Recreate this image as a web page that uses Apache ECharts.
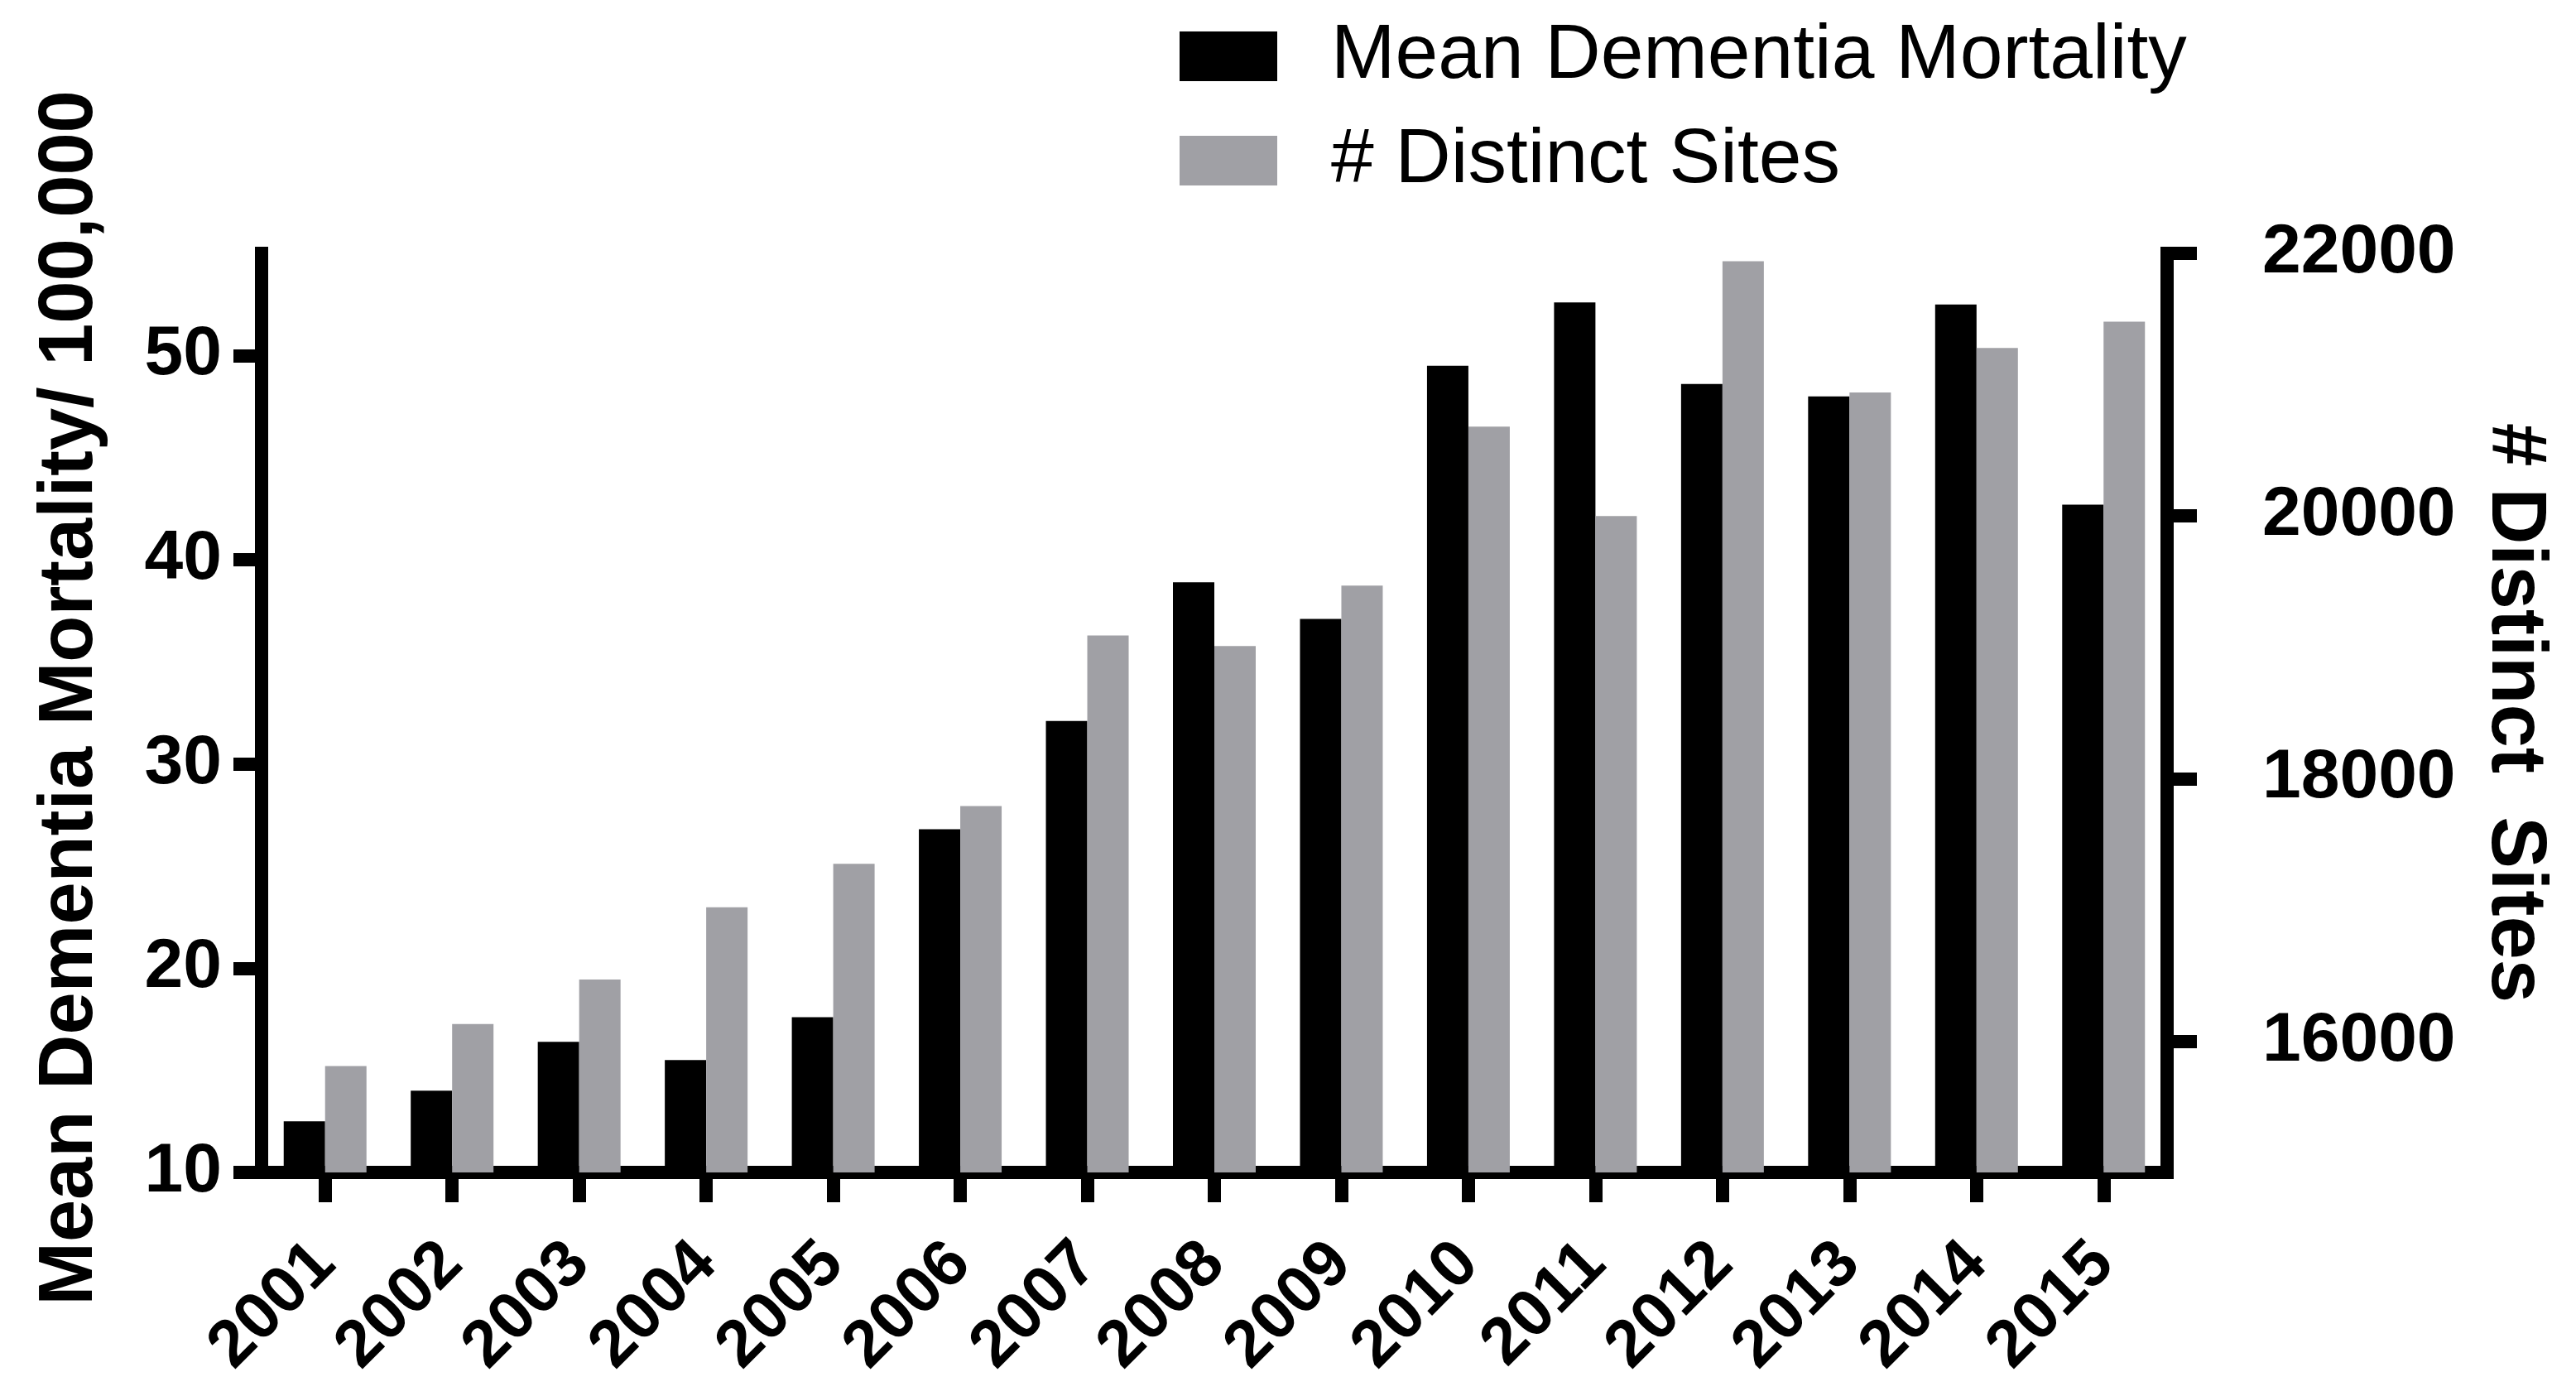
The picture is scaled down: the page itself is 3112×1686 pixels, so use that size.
<!DOCTYPE html>
<html>
<head>
<meta charset="utf-8">
<title>Dementia mortality and distinct sites</title>
<script src="https://cdn.jsdelivr.net/npm/echarts@6/dist/echarts.min.js"></script>
<style>
  html, body { margin: 0; padding: 0; background: #fff; }
  #chart { width: 3112px; height: 1686px; }
</style>
</head>
<body>
<div id="chart"></div>
<script>
// years on the x axis
const years = ["2001", "2002", "2003", "2004", "2005", "2006", "2007", "2008",
  "2009", "2010", "2011", "2012", "2013", "2014", "2015"];

// mean dementia mortality per 100,000 (left axis)
const mortality = [12.5, 14.0, 16.4, 15.5, 17.6, 26.8, 32.1, 38.9, 37.1, 49.5,
  52.6, 48.6, 48.0, 52.5, 42.7];

// number of distinct sites (right axis)
const distinctSites = [15810, 16130, 16470, 17020, 17350, 17790, 19090, 19010,
  19470, 20680, 20000, 21940, 20940, 21280, 21480];

// tick labels
const leftTicks = [10, 20, 30, 40, 50];
const rightTicks = [16000, 18000, 20000, 22000];

const FONT = "'Liberation Sans', Arial, Helvetica, sans-serif";
const GREY = "#a0a0a5";

const chart = echarts.init(document.getElementById("chart"), null, { renderer: "canvas" });

// styles communs des axes
const axisLine = { show: true, lineStyle: { color: "#000", width: 16, cap: "square" } };
const tickStyle = { color: "#000", width: 16 };

chart.setOption({
  backgroundColor: "#fff",
  animation: false,
  textStyle: { fontFamily: FONT },
  legend: {
    orient: "vertical",
    left: 1420,
    top: 16,
    icon: "rect",
    itemWidth: 118,
    itemHeight: 60,
    itemGap: 32,
    itemStyle: { borderWidth: 0 },
    textStyle: {
      fontFamily: FONT,
      fontSize: 93,
      lineHeight: 94,
      color: "#000",
      padding: [0, 0, 0, 60],
    },
    data: ["Mean Dementia Mortality", "# Distinct Sites"],
  },
  grid: { left: 316, right: 494, top: 306, bottom: 270, containLabel: false },
  xAxis: {
    type: "category",
    data: years,
    axisLine: axisLine,
    axisTick: { show: true, alignWithLabel: true, interval: 0, length: 36, lineStyle: tickStyle },
    axisLabel: {
      interval: 0,
      rotate: 45,
      margin: 98,
      fontFamily: FONT,
      fontSize: 80,
      fontWeight: "bold",
      color: "#000",
    },
    splitLine: { show: false },
  },
  yAxis: [
    {
      type: "value",
      position: "left",
      min: 10,
      max: 55,
      name: "Mean Dementia Mortality/ 100,000",
      nameLocation: "middle",
      nameRotate: 90,
      nameGap: 184,
      nameTextStyle: {
        fontFamily: FONT,
        fontSize: 92,
        fontWeight: "bold",
        color: "#000",
        padding: [0, 0, 0, 36],
      },
      axisLine: axisLine,
      axisTick: { show: true, length: 34, lineStyle: tickStyle, customValues: leftTicks },
      axisLabel: {
        margin: 48,
        fontFamily: FONT,
        fontSize: 84,
        fontWeight: "bold",
        color: "#000",
        customValues: leftTicks,
      },
      splitLine: { show: false },
    },
    {
      type: "value",
      position: "right",
      min: 15000,
      max: 22000,
      name: "# Distinct  Sites",
      nameLocation: "middle",
      nameRotate: -90,
      nameGap: 372,
      nameTextStyle: { fontFamily: FONT, fontSize: 94, fontWeight: "bold", color: "#000" },
      axisLine: axisLine,
      axisTick: { show: true, length: 36, lineStyle: tickStyle, customValues: rightTicks },
      axisLabel: {
        margin: 115,
        fontFamily: FONT,
        fontSize: 84,
        fontWeight: "bold",
        color: "#000",
        customValues: rightTicks,
        formatter: (v) => String(v),
      },
      splitLine: { show: false },
    },
  ],
  series: [
    {
      name: "Mean Dementia Mortality",
      type: "bar",
      yAxisIndex: 0,
      data: mortality,
      barWidth: 50,
      barGap: "0%",
      itemStyle: { color: "#000" },
    },
    {
      name: "# Distinct Sites",
      type: "bar",
      yAxisIndex: 1,
      data: distinctSites,
      barWidth: 50,
      barGap: "0%",
      itemStyle: { color: GREY },
    },
  ],
});
</script>
</body>
</html>
